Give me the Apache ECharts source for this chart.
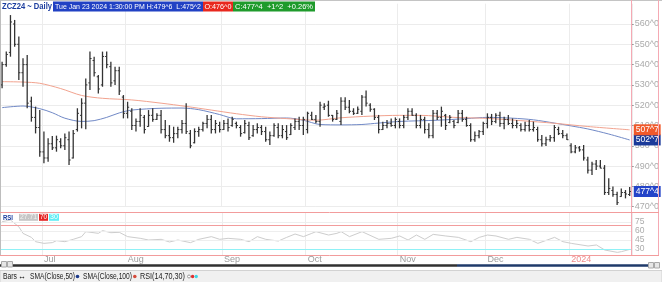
<!DOCTYPE html>
<html><head><meta charset="utf-8">
<script src="https://cdn.jsdelivr.net/npm/echarts@6/dist/echarts.min.js"></script>
<style>html,body{margin:0;padding:0;background:#fff}#c{width:662px;height:282px}</style>
</head><body><div id="c"></div>
<script>
// ---------- DATA ----------
const startDate = '2023-06-16';
const endDate = '2024-01-23';
const holidays = ['2023-06-19','2023-07-04','2023-09-04','2023-11-23','2023-12-25','2024-01-01','2024-01-15'];

const highs = [541.4,546.4,564.4,562.0,553.8,543.1,544.7,524.2,519.3,517.6,
507.0,503.7,504.8,505.0,503.7,506.1,507.0,507.8,518.5,523.4,
533.2,546.4,543.9,534.9,546.4,546.4,541.4,539.0,539.0,525.0,
521.7,518.5,513.5,518.5,515.2,517.6,518.5,516.0,517.6,512.7,
510.2,509.4,509.4,512.7,520.9,507.8,508.6,509.4,511.9,515.2,
515.2,512.7,511.9,512.7,513.5,514.3,511.9,510.2,512.7,511.9,
510.2,511.1,510.2,509.4,507.0,511.1,511.1,510.2,510.2,511.1,
513.5,514.3,514.3,516.8,516.8,515.2,521.7,520.9,522.2,515.2,
517.6,523.9,523.9,522.6,518.5,519.3,525.0,527.2,520.9,518.5,
515.2,511.9,512.7,513.5,514.0,513.5,515.2,518.5,518.5,516.0,
515.2,514.3,511.1,517.6,517.6,519.3,515.7,515.2,512.7,517.6,
517.6,514.3,511.1,507.0,507.8,511.9,516.0,515.7,516.0,516.8,
514.3,515.2,513.5,512.7,511.1,511.9,512.7,511.9,509.4,505.3,
504.5,505.3,510.2,509.4,507.8,506.1,501.2,500.4,499.9,500.4,
494.6,492.2,493.0,493.0,490.5,484.0,479.9,477.4,479.0,478.2,
479.75];
const lows = [528.3,539.0,543.9,548.8,532.4,529.1,518.5,511.9,506.1,494.6,
491.4,492.2,497.9,497.1,498.8,497.9,490.5,493.8,507.0,508.6,
508.1,527.5,534.1,525.8,529.1,538.2,529.1,530.0,525.0,513.5,
513.5,507.8,507.0,509.4,506.1,509.4,511.9,512.7,506.1,503.7,
502.0,501.5,503.7,506.1,505.8,498.8,501.2,504.5,507.0,508.6,
506.1,506.1,506.5,507.8,507.0,509.4,508.6,504.5,506.1,502.9,
504.5,506.1,505.3,502.0,500.4,504.5,503.7,503.7,502.9,505.3,
507.8,507.8,505.3,506.1,512.7,511.1,509.4,517.6,514.3,511.9,
512.7,510.2,517.6,516.0,515.2,515.7,515.2,519.3,516.8,512.7,
506.1,507.8,508.6,509.4,508.6,508.6,508.6,512.7,514.8,508.6,
508.6,506.1,503.7,503.7,512.7,509.4,507.8,511.1,508.6,511.1,
511.9,509.4,502.0,502.0,503.7,505.3,508.6,510.2,511.1,509.4,
508.1,510.2,508.6,508.6,507.0,507.0,507.0,507.0,502.0,499.6,
499.9,502.0,502.0,505.3,503.7,502.9,496.3,496.3,497.1,492.7,
486.4,485.6,488.1,488.9,475.8,475.8,474.9,470.8,474.9,474.1,
475.25];
const opens = [530,540,546,560,550,536,540,522,514,509,
497,494,501,499,502,500,503,494,508,515,
521,531,542,534,530,544,539,532,537,524,
516,517,510,512,514,509.5,515,513,515,508,
505,504,506,508,511,506,501.5,507,508,511,
513,508,510,508,511,510,511,509,506.5,510,
505,508,509,507,503,505,509,505,507,505.5,
509,512,510,508,515,513,512,519,520,515,
513,512,522,519,517,516,517,524,520,518,
514,508,510,511,510,512,510,514,517,515,
510,513,508,505,516,514,515,511.5,512,511.5,
516,513,510,503,505,507,511,514,512,515,
511,513,511,510,510,508,510,508,508,503,
501,503,504,508,506,505,500,497,499,498,
493,488,491,490,489,477,478,476,475,477,
476];
const closes = [540,545,561,550,536,540,521,514,509,497,
494,501,499,503,500,504,493,506,516,521,
530,543,536,528,544,540,531,537,527,516,
519,510,512,515,508,515,513,515,508,505,
504,506,508,511,507,500,507,508,511,513,
508,511,508,511,509,513,510,506,511,504,
508,509,507,503,505,510,505,508,504,510,
512,510,513,516,513,512,520,519.5,515,513,
516,522,519,517,516,518,524,521,518,514,
508,510,511,510,513,510,514,517,515,510,
513,508,505,516,514,517,510,514,510,516,
513,510,503,505,507,511,514,512,515,511,
513,511,510,511,508,510,508,509,503,501,
503,504,509,506,505,503,497,499,498,494,
488,491,490,489,477,479,476,472,477,476.25,
477.5];
// [bar index, value] readings of the two moving averages and the RSI
const sma50Points = [[0,518.8],[5,519.6],[9,518.3],[12,516.3],[15,513.6],[19,512.0],[22,512.4],[25,514.0],[28,516.2],[31,517.6],[38,518.5],[43,518.6],[47,517.8],[52,515.4],[56,513.3],[62,513.4],[68,513.7],[72,512.6],[76,510.5],[81,510.3],[86,510.5],[90,511.2],[95,512.0],[104,512.6],[111,513.4],[116,514.0],[122,513.6],[127,512.8],[132,511.2],[136,509.8],[140,508.3],[145,505.8],[150,502.875]];
const sma100Points = [[0,531.6],[5,531.4],[9,530.8],[14,528.2],[19,524.8],[24,523.4],[31,522.6],[38,521.0],[44,519.4],[50,517.6],[56,515.8],[62,514.3],[68,513.4],[75,512.6],[81,513.8],[88,514.6],[95,515.0],[100,515.0],[108,514.0],[116,513.5],[124,512.4],[132,511.1],[140,509.5],[150,507.875]];
const rsiPoints = [[0,75.5],[2,78.3],[4,67],[5,56],[7,49.4],[8,42.2],[10,39.4],[12,40.6],[13,43.9],[15,42.2],[17,46.1],[19,50.6],[20,58.9],[23,56.1],[24,60.6],[26,57.2],[28,57.8],[30,50.6],[33,47.8],[35,45],[38,46.1],[40,41.7],[42,45],[45,40.6],[47,46.1],[50,50.6],[52,46.1],[54,47.8],[57,46.1],[59,42.2],[61,50.6],[63,46.1],[66,43.3],[68,49.4],[70,55],[72,50.6],[74,56.1],[75,58.9],[78,53.3],[80,56.1],[81,58.9],[83,50.6],[86,58.9],[90,46.1],[93,47.8],[95,51.7],[97,45],[99,53.3],[101,46.1],[103,54.4],[106,51.7],[109,49.4],[112,42.2],[114,49.4],[116,53.3],[118,51.7],[121,46.1],[123,49.4],[126,46.1],[128,39.4],[132,49.4],[134,42.2],[136,39.4],[140,35],[142,36.7],[144,28.3],[147,24.4],[148,25.6],[150,29.4]];
const priceMin = 470, priceMax = 570, priceStep = 10;
const rsiTicks = [30, 45, 60, 75];
const rsiHigh = 70, rsiLow = 30;
const monthNames = ['Jan','Feb','Mar','Apr','May','Jun','Jul','Aug','Sep','Oct','Nov','Dec'];
const header = {sym:'ZCZ24 ~ Daily', time:'Tue Jan 23 2024 1:30:00 PM H:479^6  L:475^2', open:'O:476^0', close:'C:477^4  +1^2  +0.26%'};
const rsiValueText = '27.71';

// ---------- trading-day categories ----------
const dates = [];
(function(){
  let d = new Date(startDate + 'T00:00:00Z');
  const end = new Date(endDate + 'T00:00:00Z');
  while (d <= end) {
    const s = d.toISOString().slice(0,10);
    const wd = d.getUTCDay();
    if (wd !== 0 && wd !== 6 && holidays.indexOf(s) < 0) dates.push(s);
    d = new Date(d.getTime() + 86400000);
  }
})();

function fmt(v){ const w = Math.floor(v + 1e-9); const e = Math.round((v - w) * 8); return w + '^' + e; }
function isMonthStart(i){ return i > 0 && dates[i] && dates[i].slice(5,7) !== dates[i-1].slice(5,7); }

// ---------- layout ----------
const FONT = 'Liberation Sans';
const W = 662, plotRight = 632;
const priceTop = 3.7, priceH = 203;
const rsiTop = 213, rsiH = 42;
const rsiMin = 20, rsiMax = 90;

const ctx = document.createElement('canvas').getContext('2d');
function tw(t, size, weight){ ctx.font = (weight||'normal') + ' ' + size + 'px "' + FONT + '"'; return ctx.measureText(t).width; }
function fitText(t, x, y, w, size, color, weight){
  const m = tw(t, size, weight); const s = Math.min(1, w / m);
  return {type:'text', x:x, y:y, scaleX:s, silent:true, z:100,
    style:{text:t, x:0, y:0, fill:color, fontSize:size, fontFamily:FONT, fontWeight:weight||'normal', verticalAlign:'middle', align:'left'}};
}
function rect(x,y,w,h,fill,stroke){ return {type:'rect', silent:true, z:99, shape:{x:x,y:y,width:w,height:h}, style:{fill:fill, stroke:stroke||null, lineWidth:stroke?1:0}}; }
function hline(x1,x2,y,color){ return {type:'line', silent:true, z:98, shape:{x1:x1,y1:y,x2:x2,y2:y}, style:{stroke:color, lineWidth:1}}; }
function vline(x,y1,y2,color){ return {type:'line', silent:true, z:98, shape:{x1:x,y1:y1,x2:x,y2:y2}, style:{stroke:color, lineWidth:1}}; }
function dot(cx,cy,r,fill,stroke){ return {type:'circle', silent:true, z:100, shape:{cx:cx,cy:cy,r:r}, style:{fill:fill, stroke:stroke||null, lineWidth:stroke?1:0}}; }

const rsiBottom = rsiTop + rsiH;
const graphics = [
  hline(0, W, 0.5, '#c4c4c4'),
  vline(0.5, 0, rsiBottom, '#bdbdbd'),
  vline(plotRight - 0.5, 0, rsiBottom, '#f5a9b3'),
  vline(658.5, 0, rsiBottom, '#f5a9b3'),
  hline(0, 659, rsiTop - 0.5, '#f29c9c'),
  hline(0, 659, rsiBottom + 0.5, '#f29c9c'),
  fitText(header.sym, 2, 6.5, 50, 8.5, '#1c3d9e', 'bold'),
  rect(53, 1.5, 150, 10, '#2141c4'),
  fitText(header.time, 55, 6.8, 146, 8, '#ffffff'),
  rect(203, 1.5, 30, 10, '#e8281e'),
  fitText(header.open, 204.5, 6.8, 27, 8, '#ffffff'),
  rect(233, 1.5, 82, 10, '#1f9b2c'),
  fitText(header.close, 235, 6.8, 78, 8, '#ffffff'),
  fitText('RSI', 3, 217.3, 10, 8, '#1c3d9e', 'bold'),
  rect(19, 213.8, 19, 7, '#c6c6c6'),
  fitText(rsiValueText, 20, 217.4, 17, 7, '#f2f2f2'),
  rect(39, 213.8, 9, 7, '#e52525'),
  fitText(String(rsiHigh), 40, 217.4, 7, 7, '#ffffff'),
  rect(49, 213.8, 10, 7, '#62eef5'),
  fitText(String(rsiLow), 50, 217.4, 8, 7, '#ffffff'),
  rect(0, 264.2, 457, 2.6, '#303030'),
  rect(457, 264.2, 191, 2.6, '#1f3a6a'),
  rect(1.5, 261.5, 5, 5.5, '#e6e6e6', '#a8a8a8'),
  rect(7.5, 261.5, 5, 5.5, '#e6e6e6', '#a8a8a8'),
  rect(648.5, 262.5, 5, 5.5, '#e6e6e6', '#a8a8a8'),
  rect(654.5, 262.5, 5, 5.5, '#e6e6e6', '#a8a8a8'),
  rect(0, 270.5, W, 12, '#f0f0f0', '#d2d2d2'),
  fitText('Bars', 3, 276.6, 14, 8.5, '#222'),
  fitText('\u2194', 18, 276.4, 8, 9, '#111', 'bold'),
  vline(27.5, 271, 282, '#c8c8c8'),
  fitText('SMA(Close,50)', 30, 276.6, 45, 8.5, '#222'),
  dot(77.5, 276.5, 1.8, '#1c3a8c'),
  vline(80.5, 271, 282, '#c8c8c8'),
  fitText('SMA(Close,100)', 83, 276.6, 49, 8.5, '#222'),
  dot(134.8, 276.5, 1.8, '#d44a3a'),
  vline(137.5, 271, 282, '#c8c8c8'),
  fitText('RSI(14,70,30)', 140, 276.6, 45, 8.5, '#222'),
  dot(189, 276.5, 1.5, '#fff', '#9a9a9a'),
  dot(192.6, 276.5, 1.7, '#e03030'),
  dot(196.2, 276.5, 1.7, '#3fd6e6'),
  vline(199.5, 271, 282, '#c8c8c8')
];

const ohlcData = dates.map((d, i) => [i, opens[i], highs[i], lows[i], closes[i]]);
const last = dates.length - 1;
const sma50Last = sma50Points[sma50Points.length - 1][1];
const sma100Last = sma100Points[sma100Points.length - 1][1];

function badge(value, bg){
  return {silent:true, symbol:'none', animation:false,
    lineStyle:{color:'rgba(255,255,255,0)', width:1, type:'solid'},
    label:{show:true, position:'end', distance:2, formatter: fmt(value), backgroundColor:bg, color:'#ffffff',
      fontSize:8.5, fontFamily:FONT, padding:[1,2,1,2]},
    emphasis:{disabled:true},
    data:[{yAxis:value}]};
}

const chart = echarts.init(document.getElementById('c'), null, {renderer:'canvas'});
const option = {
  animation:false,
  backgroundColor:'#ffffff',
  textStyle:{fontFamily:FONT},
  grid:[
    {left:0, right:W - plotRight, top:priceTop, height:priceH},
    {left:0, right:W - plotRight, top:rsiTop, height:rsiH}
  ],
  xAxis:[
    {type:'category', gridIndex:0, data:dates, boundaryGap:true,
      axisLine:{show:false}, axisTick:{show:false}, axisLabel:{show:false},
      splitLine:{show:true, interval:(i)=>isMonthStart(i), lineStyle:{color:'#ececec', width:1}}},
    {type:'category', gridIndex:1, data:dates, boundaryGap:true,
      axisLine:{show:false}, axisTick:{show:false},
      axisLabel:{show:true, interval:(i)=>isMonthStart(i), margin:0.5, fontSize:9, fontFamily:FONT, color:'#9c9c9c', align:'left',
        formatter:(v)=>{ const m = parseInt(v.slice(5,7),10) - 1; return m === 0 ? '{yr|' + v.slice(0,4) + '}' : monthNames[m]; },
        rich:{yr:{color:'#f08c8c', fontSize:9, fontFamily:FONT}}},
      splitLine:{show:true, interval:(i)=>isMonthStart(i), lineStyle:{color:'#ececec', width:1}}}
  ],
  yAxis:[
    {type:'value', gridIndex:0, position:'right', min:priceMin, max:priceMax, interval:priceStep,
      axisLine:{show:false}, axisTick:{show:true, length:2, lineStyle:{color:'#9a9a9a'}},
      axisLabel:{show:true, showMaxLabel:false, margin:3, fontSize:9, fontFamily:FONT, color:'#ababab', padding:[0,0,3,0],
        formatter:(v)=> v >= priceMax ? '' : fmt(v)},
      splitLine:{show:true, showMaxLine:false, lineStyle:{color:'#ececec', width:1}}},
    {type:'value', gridIndex:1, position:'right', min:rsiMin, max:rsiMax, interval:5,
      axisLine:{show:false}, axisTick:{show:false},
      axisLabel:{show:true, margin:3, fontSize:8.5, fontFamily:FONT, color:'#ababab', padding:[0,0,4,0],
        formatter:(v)=> rsiTicks.indexOf(v) >= 0 ? String(v) : ''},
      splitLine:{show:false}}
  ],
  series:[
    {type:'custom', name:'Bars', xAxisIndex:0, yAxisIndex:0, data:ohlcData, encode:{x:0, y:[1,2,3,4]}, z:5,
      renderItem:(params, api)=>{
        const i = api.value(0);
        const o = api.coord([i, api.value(1)]);
        const h = api.coord([i, api.value(2)]);
        const l = api.coord([i, api.value(3)]);
        const c = api.coord([i, api.value(4)]);
        const cx = h[0];
        return {type:'group', children:[
          {type:'line', shape:{x1:cx, y1:h[1], x2:cx, y2:l[1]}, style:{stroke:'#333', lineWidth:1.3}},
          {type:'line', shape:{x1:cx-1.6, y1:o[1], x2:cx, y2:o[1]}, style:{stroke:'#333', lineWidth:1}},
          {type:'line', shape:{x1:cx, y1:c[1], x2:cx+1.6, y2:c[1]}, style:{stroke:'#333', lineWidth:1}}
        ]};
      },
      markLine: badge(closes[last], '#2343c8')},
    {type:'line', name:'SMA(Close,50)', xAxisIndex:0, yAxisIndex:0, data:sma50Points, smooth:0.3, showSymbol:false, symbol:'none', z:4,
      lineStyle:{color:'#7189c6', width:1}, itemStyle:{color:'#7189c6'},
      markLine: badge(sma50Last, '#1b3a9a')},
    {type:'line', name:'SMA(Close,100)', xAxisIndex:0, yAxisIndex:0, data:sma100Points, smooth:0.3, showSymbol:false, symbol:'none', z:4,
      lineStyle:{color:'#f2a38f', width:1}, itemStyle:{color:'#f2a38f'},
      markLine: badge(sma100Last, '#f0592b')},
    {type:'line', name:'RSI', xAxisIndex:1, yAxisIndex:1, data:rsiPoints, showSymbol:false, symbol:'none', z:4,
      lineStyle:{color:'#cdcdcd', width:1}, itemStyle:{color:'#cdcdcd'},
      markLine:{silent:true, symbol:'none', animation:false, label:{show:false},
        data:[
          {yAxis:75, lineStyle:{color:'#eeeeee', width:1, type:'solid'}},
          {yAxis:60, lineStyle:{color:'#eeeeee', width:1, type:'solid'}},
          {yAxis:45, lineStyle:{color:'#eeeeee', width:1, type:'solid'}},
          {yAxis:rsiHigh, lineStyle:{color:'#f29c9c', width:1, type:'solid'}},
          {yAxis:rsiLow, lineStyle:{color:'#8ff1f6', width:1.2, type:'solid'}}
        ]}}
  ],
  graphic: graphics
};
chart.setOption(option);
</script>
</body></html>
